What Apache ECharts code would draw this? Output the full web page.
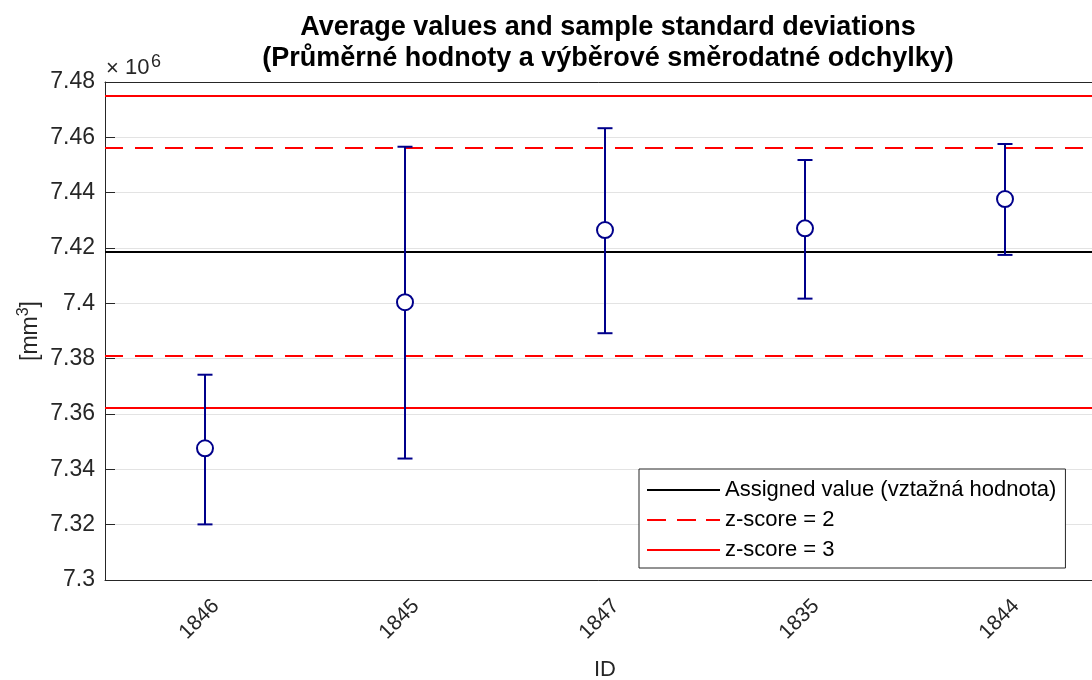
<!DOCTYPE html>
<html>
<head>
<meta charset="utf-8">
<script src="https://cdn.jsdelivr.net/npm/echarts@6/dist/echarts.min.js"></script>
<style>
html,body{margin:0;padding:0;background:#fff;overflow:hidden;}
#main{width:1092px;height:680px;}
</style>
</head>
<body>
<div id="main"></div>
<script>
// Values in units of 10^6 mm^3
const categories = ['1846', '1845', '1847', '1835', '1844'];
const means      = [7.3476, 7.4004, 7.4265, 7.4271, 7.4377];
const lowers     = [7.3201, 7.3439, 7.3892, 7.4017, 7.4175];
const uppers     = [7.3742, 7.4566, 7.4633, 7.4518, 7.4576];
const assignedValue = 7.4185;
const zScore2 = [7.4561, 7.3809];
const zScore3 = [7.4749, 7.3621];
const yTicks = { min: 7.3, max: 7.48, interval: 0.02 };

const AX = '#262626';
const BLUE = '#00008B';
const FONT = 'Liberation Sans';

const chart = echarts.init(document.getElementById('main'), null, {renderer: 'canvas'});

const errData = categories.map((c, i) => [i, lowers[i], uppers[i]]);

const ICON_SOLID = 'path://M0,0h73v2h-73z';
const ICON_DASH = 'path://M0,0h19v2h-19z M30,0h19v2h-19z M59,0h14v2h-14z';

const option = {
  animation: false,
  backgroundColor: '#fff',
  textStyle: { fontFamily: FONT },
  title: {
    text: 'Average values and sample standard deviations\n(Průměrné hodnoty a výběrové směrodatné odchylky)',
    left: 603,
    textAlign: 'center',
    top: 7,
    textStyle: { fontFamily: FONT, fontSize: 27, fontWeight: 'bold', color: '#000', lineHeight: 31 }
  },
  grid: { left: 105, top: 82, width: 1000, height: 498, containLabel: false, outerBoundsMode: 'none' },
  legend: {
    data: [
      { name: 'Assigned value (vztažná hodnota)', icon: ICON_SOLID },
      { name: 'z-score = 2', icon: ICON_DASH },
      { name: 'z-score = 3', icon: ICON_SOLID }
    ],
    orient: 'vertical',
    left: 639,
    top: 469,
    itemWidth: 73,
    itemHeight: 2,
    itemGap: 8,
    padding: [10, 9, 7, 8],
    borderColor: AX,
    borderWidth: 1,
    backgroundColor: '#fff',
    selectedMode: false,
    textStyle: { fontFamily: FONT, fontSize: 22, color: '#000', lineHeight: 22 }
  },
  xAxis: [
    {
      type: 'category',
      data: categories,
      position: 'bottom',
      name: 'ID',
      nameLocation: 'middle',
      nameGap: 79,
      nameTextStyle: { fontFamily: FONT, fontSize: 22, color: AX },
      axisLine: { lineStyle: { color: AX, width: 1 } },
      axisTick: { inside: true, alignWithLabel: true, length: 10, lineStyle: { color: AX } },
      axisLabel: { rotate: 45, fontSize: 21, color: AX, margin: 12, fontFamily: FONT,
                   verticalAlign: 'top', padding: [5, 0, 0, 0] },
      splitLine: { show: false }
    },
    {
      type: 'category',
      data: categories,
      position: 'top',
      axisLine: { lineStyle: { color: AX, width: 1 } },
      axisTick: { inside: true, alignWithLabel: true, length: 10, lineStyle: { color: AX } },
      axisLabel: { show: false },
      splitLine: { show: false }
    }
  ],
  yAxis: {
    type: 'value',
    min: yTicks.min,
    max: yTicks.max,
    interval: yTicks.interval,
    axisLine: { show: true, lineStyle: { color: AX, width: 1 } },
    axisTick: { show: true, inside: true, length: 10, lineStyle: { color: AX } },
    axisLabel: {
      fontSize: 23, color: AX, margin: 10, fontFamily: FONT,
      formatter: v => String(+v.toFixed(2))
    },
    splitLine: { show: true, lineStyle: { color: '#e3e3e3', width: 1 } }
  },
  graphic: [
    {
      type: 'text',
      x: 106, y: 58,
      style: { text: '×', fontFamily: FONT, fontSize: 22, fill: AX }
    },
    {
      type: 'text',
      x: 125, y: 57,
      style: { text: '10', fontFamily: FONT, fontSize: 22, fill: AX }
    },
    {
      type: 'text',
      x: 151, y: 53,
      style: { text: '6', fontFamily: FONT, fontSize: 18, fill: AX }
    },
    {
      type: 'text',
      x: 29, y: 331,
      rotation: Math.PI / 2,
      style: {
        text: '{a|[mm}{b|3}{a|]}',
        align: 'center', verticalAlign: 'middle',
        rich: {
          a: { fontFamily: FONT, fontSize: 23, fill: AX, verticalAlign: 'bottom', lineHeight: 26 },
          b: { fontFamily: FONT, fontSize: 16, fill: AX, verticalAlign: 'top', lineHeight: 26 }
        }
      }
    }
  ],
  series: [
    {
      name: 'Assigned value (vztažná hodnota)',
      type: 'line',
      data: [],
      symbol: 'none',
      color: '#000',
      lineStyle: { color: '#000', width: 2 },
      markLine: {
        silent: true, symbol: ['none', 'none'], label: { show: false }, precision: 6,
        lineStyle: { color: '#000', width: 2, type: 'solid' },
        data: [{ yAxis: assignedValue }]
      },
      z: 3
    },
    {
      name: 'z-score = 2',
      type: 'line',
      data: [],
      symbol: 'none',
      color: '#ff0000',
      lineStyle: { color: '#ff0000', width: 2, type: [18, 12] },
      markLine: {
        silent: true, symbol: ['none', 'none'], label: { show: false }, precision: 6,
        lineStyle: { color: '#ff0000', width: 2, type: [18, 12] },
        data: zScore2.map(v => ({ yAxis: v }))
      },
      z: 3
    },
    {
      name: 'z-score = 3',
      type: 'line',
      data: [],
      symbol: 'none',
      color: '#ff0000',
      lineStyle: { color: '#ff0000', width: 2 },
      markLine: {
        silent: true, symbol: ['none', 'none'], label: { show: false }, precision: 6,
        lineStyle: { color: '#ff0000', width: 2, type: 'solid' },
        data: zScore3.map(v => ({ yAxis: v }))
      },
      z: 3
    },
    {
      name: 'errorbars',
      type: 'custom',
      data: errData,
      z: 5,
      renderItem: function (params, api) {
        const x = api.value(0);
        const lo = api.coord([x, api.value(1)]);
        const hi = api.coord([x, api.value(2)]);
        const hw = 7.5;
        const st = { stroke: BLUE, lineWidth: 2, fill: 'none' };
        return {
          type: 'group',
          children: [
            { type: 'line', shape: { x1: lo[0], y1: lo[1], x2: hi[0], y2: hi[1] }, style: st },
            { type: 'line', shape: { x1: lo[0] - hw, y1: lo[1], x2: lo[0] + hw, y2: lo[1] }, style: st },
            { type: 'line', shape: { x1: hi[0] - hw, y1: hi[1], x2: hi[0] + hw, y2: hi[1] }, style: st }
          ]
        };
      }
    },
    {
      name: 'means',
      type: 'scatter',
      data: means,
      symbol: 'circle',
      symbolSize: 16,
      z: 6,
      itemStyle: { color: '#fff', borderColor: BLUE, borderWidth: 2, opacity: 1 }
    }
  ]
};
chart.setOption(option);
</script>
</body>
</html>
